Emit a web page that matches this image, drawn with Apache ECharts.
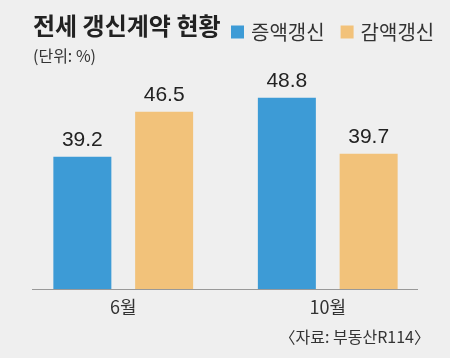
<!DOCTYPE html>
<html><head><meta charset="utf-8">
<script src="https://cdn.jsdelivr.net/npm/echarts@6/dist/echarts.min.js"></script>
<style>html,body{margin:0;padding:0;background:#efefef;}#c{width:450px;height:358px;}</style>
</head><body><div id="c"></div>
<script>
const categories = ['6월', '10월'];
const seriesNames = ['증액갱신', '감액갱신'];
const increaseValues = [39.2, 48.8];
const decreaseValues = [46.5, 39.7];

const chart = echarts.init(document.getElementById('c'), null, {renderer: 'canvas'});
const KR = '"Noto Sans CJK KR", sans-serif';
chart.setOption({
  backgroundColor: '#efefef',
  animation: false,
  title: {
    text: '전세 갱신계약 현황',
    left: 28, top: 9,
    textStyle: {fontFamily: KR, fontSize: 24, fontWeight: 'bold', color: '#222'},
    subtext: '(단위: %)',
    subtextStyle: {fontFamily: KR, fontSize: 16, color: '#333'},
    itemGap: 10
  },
  legend: {
    data: seriesNames,
    left: 226, top: 17,
    itemWidth: 13, itemHeight: 13, itemGap: 16,
    icon: 'rect',
    textStyle: {fontFamily: KR, fontSize: 20, color: '#333', padding: [0,0,0,2]}
  },
  grid: {left: 21, right: 20, top: 80, bottom: 69},
  xAxis: {
    type: 'category', data: categories,
    axisLine: {show: false}, axisTick: {show: false},
    axisLabel: {fontFamily: KR, fontSize: 18, color: '#333', margin: 9}
  },
  yAxis: {
    type: 'value', min: 17.7, max: 51.68,
    show: false, splitLine: {show: false}
  },
  graphic: [
    {type: 'line', shape: {x1: 32, y1: 289.5, x2: 418, y2: 289.5}, style: {stroke: '#999', lineWidth: 1}, z: 10},
    {type: 'text', right: 20, top: 329, style: {text: '〈자료: 부동산R114〉', font: '16px "Noto Sans CJK KR"', fill: '#333'}}
  ],
  series: [
    {name: seriesNames[0], type: 'bar', data: increaseValues, barWidth: 58, barGap: '41%',
     itemStyle: {color: '#3d9bd6'},
     label: {show: true, position: 'top', distance: 6, fontFamily: '"Liberation Sans", Arial', fontSize: 21, color: '#222'}},
    {name: seriesNames[1], type: 'bar', data: decreaseValues, barWidth: 58,
     itemStyle: {color: '#f2c27a'},
     label: {show: true, position: 'top', distance: 6, fontFamily: '"Liberation Sans", Arial', fontSize: 21, color: '#222'}}
  ]
});
</script></body></html>
